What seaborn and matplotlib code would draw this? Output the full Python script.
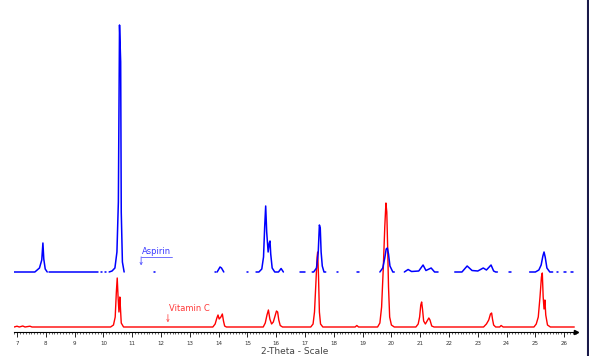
import numpy as np
import pandas as pd
import matplotlib
matplotlib.use("Agg")
import matplotlib.pyplot as plt
from matplotlib.lines import Line2D
from matplotlib.ticker import MultipleLocator
import seaborn as sns

# Aspirin trace: 2-theta / counts vertices, nan = gap in the drawn line
aspirin_2theta = [6.90, 7.62, 7.78, 7.86, 7.90, 7.93, 7.98, 8.05, np.nan,
                  8.10, 9.80, np.nan, 9.90, 9.95, np.nan, 10.05, 10.10, np.nan,
                  10.20, 10.30, 10.40, 10.47, 10.52, 10.56, 10.60, 10.62, 10.66, 10.72, np.nan,
                  11.74, 11.78, np.nan, 13.86, 13.90, np.nan,
                  13.95, 14.05, 14.10, 14.18, np.nan, 15.00, 15.03, np.nan,
                  15.30, 15.40, 15.50, 15.56, 15.60, 15.635, 15.67, 15.72, 15.76, 15.785, 15.81,
                  15.86, 15.95, 16.08, 16.17, 16.25, np.nan,
                  16.83, 17.00, np.nan,
                  17.25, 17.30, 17.40, 17.46, 17.50, 17.53, 17.56, 17.60, 17.66, 17.72, np.nan,
                  18.10, 18.13, np.nan, 18.82, 18.86, np.nan,
                  19.60, 19.70, 19.77, 19.82, 19.86, 19.90, 19.95, 20.05, 20.10, np.nan,
                  20.45, 20.58, 20.70, 20.95, 21.10, 21.20, 21.38, 21.50, 21.62, np.nan,
                  22.20, 22.45, 22.63, 22.80, 23.00, 23.19, 23.30, 23.46, 23.55, 23.62, 23.68, np.nan,
                  24.10, 24.14, np.nan,
                  24.80, 25.00, 25.12, 25.20, 25.26, 25.30, 25.34, 25.40, 25.50, 25.60, np.nan,
                  25.75, 25.80, np.nan, 26.00, 26.05, np.nan, 26.25, 26.30]
aspirin_counts = [0, 0, 40, 120, 290, 130, 30, 0, np.nan,
                  0, 0, np.nan, 0, 0, np.nan, 0, 0, np.nan,
                  0, 10, 40, 200, 700, 2470, 2100, 600, 100, 0, np.nan,
                  0, 0, np.nan, 0, 0, np.nan,
                  0, 50, 40, 0, np.nan, 0, 0, np.nan,
                  0, 0, 30, 150, 450, 660, 400, 200, 290, 310, 180,
                  40, 0, 0, 35, 0, np.nan,
                  0, 0, np.nan,
                  0, 0, 40, 200, 470, 440, 200, 60, 0, 0, np.nan,
                  0, 0, np.nan, 0, 0, np.nan,
                  0, 40, 140, 230, 240, 180, 60, 0, 0, np.nan,
                  0, 25, 5, 10, 70, 15, 40, 0, 0, np.nan,
                  0, 0, 60, 15, 10, 40, 20, 70, 10, 0, 0, np.nan,
                  0, 0, np.nan,
                  0, 0, 20, 70, 160, 200, 150, 40, 0, 0, np.nan,
                  0, 0, np.nan, 0, 0, np.nan, 0, 0]

# Vitamin C trace
vitc_2theta = [6.90, 7.00, 7.08, 7.20, 7.28, 7.45, 7.52,
               10.25, 10.35, 10.41, 10.45, 10.48, 10.51, 10.54, 10.57, 10.59, 10.62, 10.70,
               13.80, 13.88, 13.94, 13.98, 14.02, 14.08, 14.13, 14.17, 14.21, 14.27,
               15.55, 15.62, 15.68, 15.73, 15.78, 15.84, 15.90, 15.96, 16.01, 16.05, 16.09, 16.14, 16.22,
               17.20, 17.28, 17.33, 17.38, 17.42, 17.44, 17.47, 17.50, 17.54, 17.62,
               18.74, 18.80, 18.86,
               19.52, 19.60, 19.66, 19.72, 19.77, 19.81, 19.84, 19.87, 19.90, 19.94, 20.00, 20.10,
               20.85, 20.93, 20.98, 21.02, 21.05, 21.08, 21.12, 21.18, 21.24, 21.30, 21.34, 21.40, 21.48,
               23.20, 23.30, 23.38, 23.44, 23.48, 23.51, 23.55, 23.62, 23.76, 23.81, 23.88,
               24.95, 25.03, 25.10, 25.16, 25.21, 25.24, 25.27, 25.30, 25.33, 25.36, 25.42, 25.52,
               26.35]
vitc_counts = [0, 8, 0, 10, 0, 8, 0,
               0, 20, 100, 350, 490, 300, 150, 300, 200, 40, 0,
               0, 30, 90, 120, 80, 100, 130, 60, 10, 0,
               0, 40, 120, 170, 80, 30, 50, 110, 160, 150, 70, 15, 0,
               0, 30, 150, 450, 700, 750, 500, 150, 30, 0,
               0, 15, 0,
               0, 40, 200, 600, 1000, 1240, 1150, 800, 400, 100, 20, 0,
               0, 30, 100, 220, 250, 180, 60, 30, 60, 90, 70, 10, 0,
               0, 30, 70, 130, 140, 80, 20, 0, 0, 15, 0,
               0, 30, 100, 300, 500, 540, 300, 180, 270, 120, 20, 0,
               0]

ticks = list(range(7, 27))


def to_frame(xs, ys, offset):
    df = pd.DataFrame({"two_theta": xs, "counts": ys})
    df["seg"] = df["two_theta"].isna().cumsum()
    df = df.dropna()
    df["counts"] = df["counts"] + offset
    return df


sns.set_style("white")
plt.rcParams["font.family"] = ["DejaVu Sans"]

fig = plt.figure(figsize=(5.89, 3.56), dpi=100)
ax = fig.add_axes([14 / 589, 24 / 356, 562 / 589, 332 / 356])

asp = to_frame(aspirin_2theta, aspirin_counts, 550)
vit = to_frame(vitc_2theta, vitc_counts, 0)

sns.lineplot(data=vit, x="two_theta", y="counts", units="seg", estimator=None,
             sort=False, color="#ff0000", lw=1.0, ax=ax)
sns.lineplot(data=asp, x="two_theta", y="counts", units="seg", estimator=None,
             sort=False, color="#0000ff", lw=1.1, ax=ax)

# labels with little arrows
ax.text(11.35, 715, "Aspirin", color="#3a3aff", fontsize=6, va="bottom", ha="left")
ax.plot([11.31, 12.38], [700, 700], color="#5a5aff", lw=0.6)
ax.annotate("", xy=(11.31, 615), xytext=(11.31, 702),
            arrowprops=dict(arrowstyle="->", color="#5a5aff", lw=0.6,
                            mutation_scale=4, shrinkA=0, shrinkB=0))
ax.text(12.28, 140, "Vitamin C", color="#ff3a3a", fontsize=6, va="bottom", ha="left")
ax.annotate("", xy=(12.24, 45), xytext=(12.24, 125),
            arrowprops=dict(arrowstyle="->", color="#ff5a5a", lw=0.6,
                            mutation_scale=4, shrinkA=0, shrinkB=0))

ax.set_xlim(6.896, 26.41)
ax.set_ylim(-50, 3270)
ax.set_yticks([])
ax.set_ylabel("")
ax.set_xticks(ticks)
ax.set_xticklabels([str(t) for t in ticks])
ax.xaxis.set_minor_locator(MultipleLocator(0.1))
ax.tick_params(axis="x", which="major", direction="out", length=3.5, width=0.7,
               labelsize=4, labelcolor="#333333", pad=3, bottom=True)
ax.tick_params(axis="x", which="minor", direction="out", length=1.5, width=0.5, bottom=True)
for side in ["left", "top", "right"]:
    ax.spines[side].set_visible(False)
ax.spines["bottom"].set_color("black")
ax.spines["bottom"].set_linewidth(0.8)
ax.plot(1, 0, ">", color="black", markersize=3, transform=ax.transAxes, clip_on=False)
ax.set_xlabel("2-Theta - Scale", fontsize=6.5, color="#444444", labelpad=1)

# dark strip on the right edge of the picture
fig.add_artist(Line2D([587.5 / 589, 587.5 / 589], [0, 1], transform=fig.transFigure,
                      color="#1a1a4a", lw=1.5))

fig.savefig("out.png", dpi=100)
